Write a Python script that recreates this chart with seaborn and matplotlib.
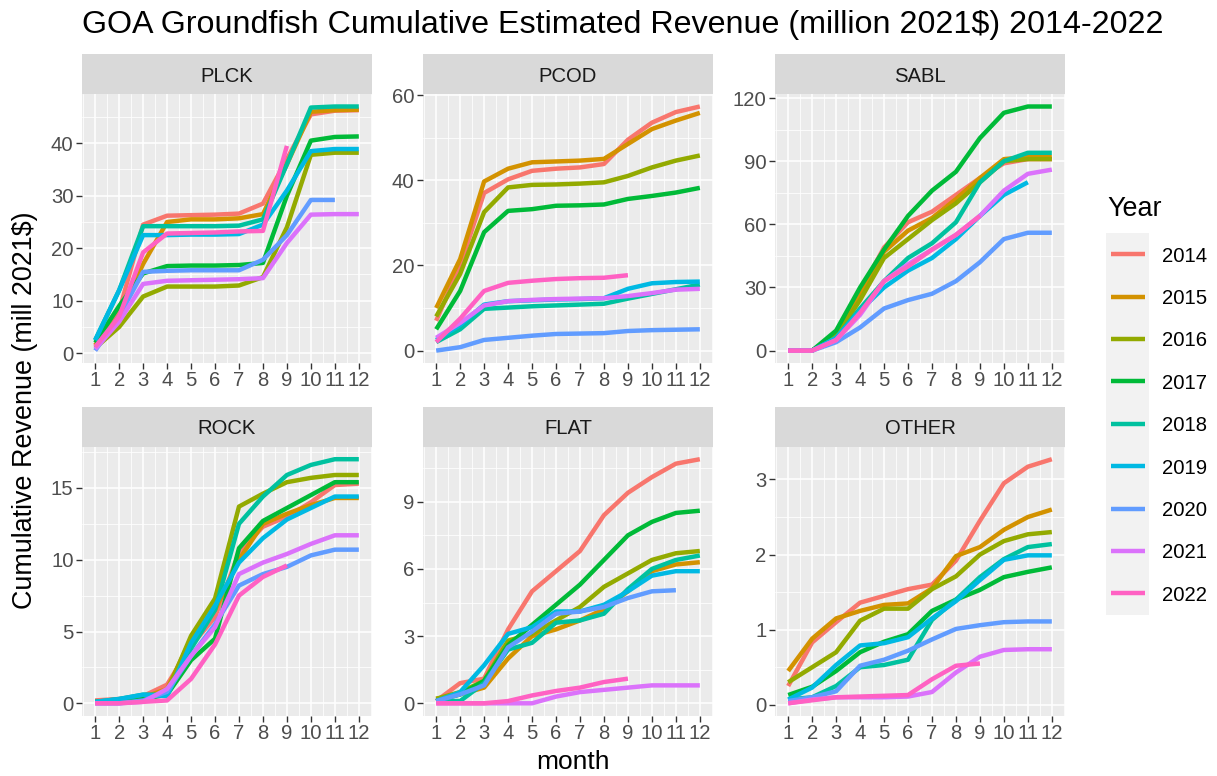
import numpy as np
import pandas as pd
import matplotlib
matplotlib.use("Agg")
import matplotlib.pyplot as plt
from matplotlib.lines import Line2D
from matplotlib.patches import Rectangle
import seaborn as sns

# ---------------- data ----------------
months = list(range(1, 13))
years = [2014, 2015, 2016, 2017, 2018, 2019, 2020, 2021, 2022]
species = ["PLCK", "PCOD", "SABL", "ROCK", "FLAT", "OTHER"]
year_colors = ["#F8766D", "#D39200", "#93AA00", "#00BA38", "#00C19F",
               "#00B9E3", "#619CFF", "#DB72FB", "#FF61C3"]

PLCK = {
    2014: [1.5, 8, 24.5, 26.2, 26.3, 26.4, 26.6, 28.5, 37, 45.5, 46.2, 46.3],
    2015: [1.5, 7, 17, 25, 25.5, 25.5, 25.7, 26.5, 36, 46, 46.3, 46.4],
    2016: [1, 5, 10.8, 12.7, 12.7, 12.7, 12.9, 14.5, 24, 37.8, 38.2, 38.2],
    2017: [2, 9, 15.2, 16.6, 16.7, 16.7, 16.8, 17.2, 30, 40.5, 41.2, 41.3],
    2018: [2.5, 12, 24.2, 24.2, 24.2, 24.2, 24.3, 25.5, 36, 46.8, 47, 47],
    2019: [2.5, 12, 22.5, 22.5, 22.6, 22.6, 22.7, 24.5, 31, 38.5, 38.9, 38.9],
    2020: [0.5, 7, 15.5, 15.7, 15.8, 15.8, 15.8, 17.8, 22.5, 29.2, 29.2],
    2021: [0.8, 6, 13.2, 13.8, 13.9, 14.0, 14.1, 14.3, 21, 26.4, 26.5, 26.5],
    2022: [1.2, 7, 19.2, 22.8, 22.9, 23, 23.2, 23.3, 39.5],
}
PCOD = {
    2014: [7, 20, 37, 40.2, 42.2, 42.7, 43, 43.8, 49.5, 53.5, 56, 57.3],
    2015: [10, 21.5, 39.7, 42.7, 44.2, 44.4, 44.6, 45, 48.5, 52, 54, 55.8],
    2016: [8, 18, 32.5, 38.3, 38.9, 39, 39.2, 39.5, 41, 43, 44.6, 45.8],
    2017: [5, 14, 27.8, 32.8, 33.2, 34, 34.1, 34.3, 35.6, 36.3, 37.1, 38.2],
    2018: [2, 5, 9.8, 10.1, 10.4, 10.6, 10.8, 11, 12.2, 13.3, 14.4, 15.5],
    2019: [2.5, 6, 10.8, 11.6, 11.8, 12, 12.1, 12.3, 14.5, 15.8, 16.1, 16.2],
    2020: [0, 0.8, 2.5, 3, 3.5, 3.9, 4, 4.1, 4.6, 4.8, 4.9, 5],
    2021: [3, 6.5, 10.6, 11.6, 11.9, 12.1, 12.2, 12.3, 12.8, 13.5, 14.3, 14.5],
    2022: [2, 7.5, 14, 15.9, 16.4, 16.8, 17, 17.1, 17.7],
}
SABL = {
    2014: [0, 0, 8, 28, 49, 61, 66, 74, 82, 89, 91, 91],
    2015: [0, 0, 7, 26, 47, 57, 63, 72, 82, 91, 92, 92],
    2016: [0, 0, 7, 24, 44, 53, 62, 70, 80, 90, 91, 91],
    2017: [0, 0, 9.5, 30, 48, 64, 76, 85, 101, 113, 116, 116],
    2018: [0, 0, 6, 20, 33, 44, 51, 61, 80, 90, 94, 94],
    2019: [0, 0, 6, 19, 30, 38, 44, 53, 64, 74, 80],
    2020: [0, 0, 4, 11, 20, 24, 27, 33, 42, 53, 56, 56],
    2021: [0, 0, 5, 17, 33, 41, 48, 55, 64, 76, 84, 86],
    2022: [0, 0, 5, 18, 33, 40, 48, 55, 64],
}
ROCK = {
    2014: [0.2, 0.3, 0.5, 1.3, 4, 6, 10.5, 12.3, 13, 14, 15.2, 15.3],
    2015: [0.1, 0.2, 0.4, 1, 4.5, 6.5, 10, 12.5, 13.2, 13.8, 14.3, 14.3],
    2016: [0.1, 0.2, 0.3, 0.8, 4.7, 7.3, 13.7, 14.6, 15.4, 15.7, 15.9, 15.9],
    2017: [0.1, 0.1, 0.3, 0.6, 3, 4.5, 10.8, 12.7, 13.6, 14.5, 15.4, 15.4],
    2018: [0.1, 0.3, 0.6, 0.6, 3.8, 6.5, 12.5, 14.4, 15.9, 16.6, 17, 17],
    2019: [0.1, 0.3, 0.6, 0.5, 4.2, 6.8, 9.8, 11.5, 12.8, 13.6, 14.4, 14.4],
    2020: [0, 0, 0.2, 0.8, 3.3, 5.5, 8.2, 9, 9.5, 10.3, 10.7, 10.7],
    2021: [0, 0, 0.1, 1, 3.3, 5.3, 9, 9.8, 10.4, 11.1, 11.7, 11.7],
    2022: [0, 0, 0.1, 0.2, 1.7, 4.1, 7.5, 8.8, 9.6],
}
FLAT = {
    2014: [0.1, 0.9, 1.1, 3.3, 5, 5.9, 6.8, 8.4, 9.4, 10.1, 10.7, 10.9],
    2015: [0.2, 0.4, 0.7, 2, 3, 3.3, 3.7, 4.2, 5, 5.9, 6.2, 6.3],
    2016: [0.2, 0.5, 1, 2.8, 3.1, 3.7, 4.3, 5.2, 5.8, 6.4, 6.7, 6.8],
    2017: [0.1, 0.4, 1, 2.6, 3.5, 4.4, 5.3, 6.4, 7.5, 8.1, 8.5, 8.6],
    2018: [0.1, 0.1, 0.9, 2.4, 2.7, 3.6, 3.7, 4, 5.1, 6, 6.4, 6.6],
    2019: [0.1, 0.5, 1.7, 3.1, 3.4, 4.1, 4.1, 4.4, 5, 5.7, 5.9, 5.9],
    2020: [0.1, 0.4, 0.8, 2.5, 3.2, 4, 4.1, 4.3, 4.7, 5, 5.05],
    2021: [0, 0, 0, 0, 0, 0.3, 0.5, 0.6, 0.7, 0.8, 0.8, 0.8],
    2022: [0, 0, 0, 0.1, 0.35, 0.55, 0.7, 0.95, 1.1],
}
OTHER = {
    2014: [0.25, 0.83, 1.1, 1.36, 1.45, 1.54, 1.6, 1.92, 2.45, 2.95, 3.17, 3.27],
    2015: [0.45, 0.88, 1.15, 1.25, 1.33, 1.35, 1.55, 1.98, 2.1, 2.33, 2.5, 2.6],
    2016: [0.3, 0.5, 0.7, 1.12, 1.28, 1.28, 1.54, 1.71, 2.0, 2.18, 2.27, 2.3],
    2017: [0.13, 0.24, 0.45, 0.7, 0.84, 0.94, 1.25, 1.4, 1.53, 1.7, 1.77, 1.83],
    2018: [0.07, 0.1, 0.25, 0.5, 0.53, 0.6, 1.13, 1.4, 1.7, 1.94, 2.1, 2.14],
    2019: [0.07, 0.23, 0.53, 0.79, 0.82, 0.9, 1.15, 1.38, 1.66, 1.93, 1.99, 1.99],
    2020: [0.05, 0.1, 0.18, 0.52, 0.6, 0.72, 0.87, 1.01, 1.06, 1.1, 1.11, 1.11],
    2021: [0.02, 0.07, 0.1, 0.1, 0.1, 0.11, 0.17, 0.43, 0.64, 0.73, 0.74, 0.74],
    2022: [0.02, 0.06, 0.1, 0.11, 0.12, 0.13, 0.34, 0.52, 0.55],
}
species_data = [PLCK, PCOD, SABL, ROCK, FLAT, OTHER]
y_breaks = {
    "PLCK": [0, 10, 20, 30, 40],
    "PCOD": [0, 20, 40, 60],
    "SABL": [0, 30, 60, 90, 120],
    "ROCK": [0, 5, 10, 15],
    "FLAT": [0, 3, 6, 9],
    "OTHER": [0, 1, 2, 3],
}

title = "GOA Groundfish Cumulative Estimated Revenue (million 2021$) 2014-2022"
ylabel = "Cumulative Revenue (mill 2021$)"
xlabel = "month"
legend_title = "Year"

# ---------------- styling ----------------
sns.set_theme(style="darkgrid")
plt.rcParams["font.family"] = ["Liberation Sans", "DejaVu Sans"]

W, H = 1217, 776
fig = plt.figure(figsize=(W / 100, H / 100), dpi=100)
fig.patch.set_facecolor("white")

def fx(px):
    return px / W

def fy(py):
    return 1 - py / H

col_left = [82, 423, 775]
panel_w = 290
row_top = [94.3, 447]
panel_h = 268.5
strip_h = 40

palette = {str(y): c for y, c in zip(years, year_colors)}
hue_order = [str(y) for y in years]

small_fs = 14.6
for i, (name, data) in enumerate(zip(species, species_data)):
    r, c = divmod(i, 3)
    left = col_left[c]
    top = row_top[r]
    ax = fig.add_axes([fx(left), fy(top + panel_h), fx(panel_w), panel_h / H])
    rows = []
    for y in years:
        vals = data[y]
        for m, v in zip(months, vals):
            rows.append({"month": m, "value": v, "Year": str(y)})
    df = pd.DataFrame(rows)
    sns.lineplot(data=df, x="month", y="value", hue="Year", hue_order=hue_order,
                 palette=palette, estimator=None, linewidth=3.2, legend=False,
                 ax=ax, solid_capstyle="butt", solid_joinstyle="round")
    vmin, vmax = df["value"].min(), df["value"].max()
    rng = vmax - vmin
    ylo, yhi = vmin - 0.05 * rng, vmax + 0.05 * rng
    ax.set_ylim(ylo, yhi)
    ax.set_xlim(1 - 0.05 * 11, 12 + 0.05 * 11)
    ax.set_facecolor("#EBEBEB")
    ax.set_xticks(months)
    ax.set_xticklabels([str(m) for m in months])
    yb = y_breaks[name]
    ax.set_yticks(yb)
    ax.set_yticklabels([str(v) for v in yb])
    step = yb[1] - yb[0]
    ext = [yb[0] - step] + yb + [yb[-1] + step]
    yminor = [(a + b) / 2 for a, b in zip(ext[:-1], ext[1:])]
    yminor = [v for v in yminor if ylo <= v <= yhi]
    ax.set_yticks(yminor, minor=True)
    xminor = [m + 0.5 for m in range(0, 13)]
    xminor = [v for v in xminor if 0.45 <= v <= 12.55]
    ax.set_xticks(xminor, minor=True)
    ax.grid(which="major", color="white", linewidth=1.1)
    ax.grid(which="minor", color="white", linewidth=0.55)
    ax.set_axisbelow(True)
    ax.tick_params(which="major", direction="out", length=4.1, width=1.0,
                   color="#333333", labelsize=small_fs, labelcolor="#4D4D4D", pad=2.0,
                   bottom=True, left=True)
    ax.tick_params(which="minor", length=0)
    for sp in ax.spines.values():
        sp.set_visible(False)
    ax.set_xlabel("")
    ax.set_ylabel("")
    # strip
    sax = fig.add_axes([fx(left), fy(top), fx(panel_w), strip_h / H])
    sax.set_facecolor("#D9D9D9")
    sax.set_xticks([])
    sax.set_yticks([])
    sax.grid(False)
    for sp in sax.spines.values():
        sp.set_visible(False)
    sax.text(0.5, 0.5, name, ha="center", va="center_baseline", fontsize=small_fs,
             color="#1A1A1A", transform=sax.transAxes)

# titles
fig.text(fx(82), fy(33.3), title, ha="left", va="baseline", fontsize=23.2, color="black")
fig.text(fx(25), fy(410), ylabel, ha="center", va="center", rotation=90,
         fontsize=19.4, color="black")
fig.text(fx(573), fy(769), xlabel, ha="center", va="baseline", fontsize=19.0, color="black")

# legend (drawn manually, ggplot style)
fig.text(fx(1107), fy(216.5), legend_title, ha="left", va="baseline", fontsize=19.4,
         color="black")
key_top = 233
key_h = 42.4
fig.add_artist(Rectangle((fx(1106), fy(key_top + key_h * len(years))), fx(43),
                         key_h * len(years) / H, transform=fig.transFigure,
                         facecolor="#F2F2F2", edgecolor="none"))
for k, (y, col) in enumerate(zip(years, year_colors)):
    yc = key_top + key_h * (k + 0.5)
    fig.add_artist(Line2D([fx(1110.5), fx(1144.5)], [fy(yc), fy(yc)],
                          transform=fig.transFigure, color=col, linewidth=3.2,
                          solid_capstyle="butt"))
    fig.text(fx(1162), fy(yc), str(y), ha="left", va="center_baseline",
             fontsize=small_fs, color="black")

fig.savefig("out.png", dpi=100, facecolor="white")
